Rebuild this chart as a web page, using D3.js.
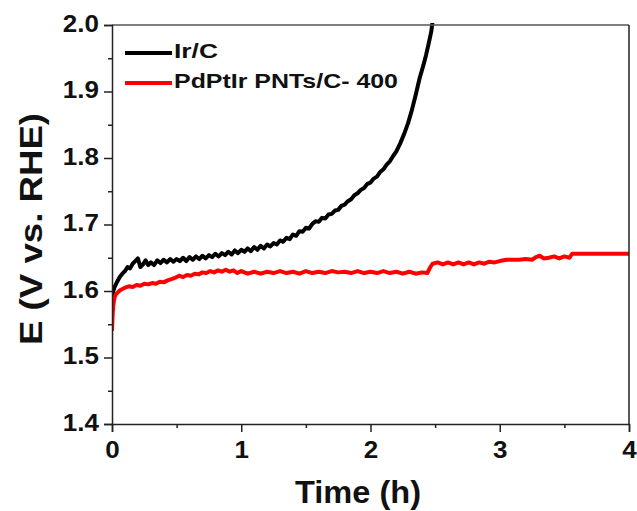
<!DOCTYPE html>
<html><head><meta charset="utf-8">
<script src="https://cdn.jsdelivr.net/npm/d3@7"></script>
<style>body{margin:0;background:#fff}svg{display:block}text{font-family:"Liberation Sans",Arial,sans-serif;font-weight:bold}</style>
</head><body>
<svg id="c" width="637" height="511"></svg>
<script>
const seriesNames = ["Ir/C", "PdPtIr PNTs/C- 400"];
const seriesColors = ["#000000", "#ff0000"];
const xTicks = [0, 1, 2, 3, 4];
const yTicks = [1.4, 1.5, 1.6, 1.7, 1.8, 1.9, 2.0];
const irC = [[0,1.588],[0.01,1.600],[0.02,1.606],[0.04,1.614],[0.06,1.621],[0.08,1.626],[0.10,1.630],[0.12,1.636],[0.14,1.634],[0.16,1.641],[0.18,1.645],[0.20,1.649],[0.22,1.636],[0.24,1.640],[0.26,1.646],[0.28,1.639],[0.30,1.643],[0.325,1.639],[0.35,1.646],[0.375,1.642],[0.40,1.647],[0.425,1.643],[0.45,1.648],[0.475,1.644],[0.50,1.648],[0.525,1.645],[0.55,1.650],[0.575,1.645],[0.60,1.651],[0.625,1.647],[0.65,1.652],[0.675,1.648],[0.70,1.653],[0.725,1.649],[0.75,1.654],[0.775,1.651],[0.80,1.656],[0.825,1.652],[0.85,1.657],[0.875,1.654],[0.90,1.659],[0.925,1.655],[0.95,1.661],[0.975,1.657],[1.00,1.662],[1.025,1.659],[1.05,1.664],[1.075,1.660],[1.10,1.666],[1.125,1.662],[1.15,1.668],[1.175,1.664],[1.20,1.670],[1.225,1.667],[1.25,1.672],[1.275,1.670],[1.30,1.676],[1.325,1.674],[1.35,1.680],[1.375,1.678],[1.40,1.685],[1.425,1.683],[1.45,1.690],[1.475,1.689],[1.50,1.695],[1.525,1.694],[1.55,1.701],[1.575,1.705],[1.60,1.704],[1.625,1.710],[1.65,1.709],[1.675,1.715],[1.70,1.716],[1.725,1.721],[1.75,1.722],[1.775,1.728],[1.80,1.730],[1.825,1.735],[1.85,1.738],[1.875,1.744],[1.90,1.747],[1.925,1.752],[1.95,1.755],[1.975,1.761],[2.00,1.763],[2.025,1.769],[2.05,1.772],[2.075,1.779],[2.10,1.783],[2.125,1.790],[2.15,1.795],[2.175,1.803],[2.20,1.810],[2.23,1.822],[2.26,1.836],[2.29,1.852],[2.32,1.872],[2.35,1.895],[2.38,1.920],[2.41,1.940],[2.43,1.955],[2.45,1.972],[2.47,1.990],[2.48,2.005]];
const pdptir = [[0,1.540],[0.003,1.555],[0.006,1.568],[0.01,1.578],[0.015,1.585],[0.02,1.590],[0.03,1.595],[0.05,1.599],[0.07,1.602],[0.10,1.605],[0.13,1.607],[0.16,1.606],[0.19,1.609],[0.22,1.608],[0.25,1.611],[0.28,1.610],[0.31,1.612],[0.34,1.611],[0.37,1.614],[0.40,1.613],[0.43,1.616],[0.46,1.618],[0.49,1.620],[0.52,1.623],[0.55,1.621],[0.58,1.624],[0.61,1.623],[0.64,1.626],[0.67,1.625],[0.70,1.628],[0.73,1.627],[0.76,1.630],[0.79,1.628],[0.82,1.631],[0.85,1.629],[0.88,1.632],[0.91,1.629],[0.94,1.631],[0.97,1.627],[1.00,1.630],[1.05,1.626],[1.10,1.629],[1.15,1.626],[1.20,1.629],[1.25,1.627],[1.30,1.630],[1.35,1.627],[1.40,1.629],[1.45,1.626],[1.50,1.630],[1.55,1.627],[1.60,1.629],[1.65,1.627],[1.70,1.630],[1.75,1.628],[1.80,1.629],[1.85,1.627],[1.90,1.630],[1.95,1.627],[2.00,1.629],[2.05,1.627],[2.10,1.630],[2.15,1.627],[2.20,1.629],[2.25,1.626],[2.30,1.629],[2.35,1.626],[2.40,1.628],[2.44,1.627],[2.46,1.635],[2.48,1.641],[2.52,1.643],[2.56,1.640],[2.60,1.643],[2.64,1.640],[2.68,1.643],[2.72,1.640],[2.76,1.643],[2.80,1.640],[2.84,1.643],[2.88,1.641],[2.92,1.644],[2.96,1.643],[3.00,1.645],[3.05,1.647],[3.10,1.647],[3.15,1.647],[3.20,1.648],[3.25,1.647],[3.28,1.651],[3.31,1.653],[3.34,1.649],[3.38,1.650],[3.42,1.652],[3.46,1.649],[3.50,1.652],[3.54,1.650],[3.56,1.656],[3.70,1.656],[3.85,1.656],[4.00,1.656]];
const seriesData = [irC, pdptir];

const svg = d3.select("#c");
const L = 112, R = 629, T = 25, B = 424;
const x = d3.scaleLinear().domain([0, 4]).range([L, R]);
const y = d3.scaleLinear().domain([1.4, 2.0]).range([B, T]);

function stretch(sel, f) {
  sel.each(function(){
    const w = this.getComputedTextLength();
    d3.select(this).attr("textLength", w * f).attr("lengthAdjust", "spacingAndGlyphs");
  });
}

svg.append("clipPath").attr("id","clip").append("rect").attr("x",L).attr("y",T-2).attr("width",R-L).attr("height",B-T+2);

const line = d3.line().x(d=>x(d[0])).y(d=>y(d[1]));
seriesData.forEach((s,i)=>{
  svg.append("path").datum(s).attr("d",line).attr("fill","none")
    .attr("stroke",seriesColors[i]).attr("stroke-width",4).attr("stroke-linejoin","round")
    .attr("clip-path","url(#clip)");
});

// frame
svg.append("line").attr("x1",L).attr("x2",R).attr("y1",T).attr("y2",T).attr("stroke","#555").attr("stroke-width",1.5);
svg.append("line").attr("x1",R).attr("x2",R).attr("y1",T).attr("y2",B).attr("stroke","#222").attr("stroke-width",1.5);

// axes
const xAxis = d3.axisBottom(x).tickValues(xTicks).tickFormat(d3.format("d")).tickSize(8).tickPadding(10);
const gx = svg.append("g").attr("transform",`translate(0,${B})`).call(xAxis);
const xMinor = d3.axisBottom(x).tickValues([0.5,1.5,2.5,3.5]).tickSize(4).tickFormat("");
svg.append("g").attr("transform",`translate(0,${B})`).call(xMinor).select(".domain").remove();
const yAxis = d3.axisLeft(y).tickValues(yTicks).tickFormat(d3.format(".1f")).tickSize(8).tickPadding(5);
const gy = svg.append("g").attr("transform",`translate(${L},0)`).call(yAxis);
const yMinor = d3.axisLeft(y).tickValues([1.45,1.55,1.65,1.75,1.85,1.95]).tickSize(4).tickFormat("");
svg.append("g").attr("transform",`translate(${L},0)`).call(yMinor).select(".domain").remove();

svg.selectAll(".domain").attr("stroke","#222").attr("stroke-width",1.5);
svg.selectAll(".tick line").attr("stroke","#222").attr("stroke-width",1.5);
[gx, gy].forEach(g => {
  const t = g.selectAll("text").attr("font-size",23).attr("fill","#111")
    .style("font-family","'Liberation Sans',Arial").style("font-weight","bold");
  stretch(t, 1.13);
});
gy.selectAll("text").attr("dy","0.28em");

// titles
svg.append("text").attr("x",358).attr("y",503).attr("text-anchor","middle").attr("font-size",32).attr("fill","#111")
  .attr("textLength",126).attr("lengthAdjust","spacingAndGlyphs").text("Time (h)");
svg.append("text").attr("transform","translate(42,229) rotate(-90)").attr("text-anchor","middle").attr("font-size",32).attr("fill","#111")
  .attr("textLength",232).attr("lengthAdjust","spacingAndGlyphs").text("E (V vs. RHE)");

// legend
const legendLens = [44, 224];
seriesNames.forEach((n,i)=>{
  const ly = 53 + i*30;
  svg.append("line").attr("x1",125).attr("x2",172).attr("y1",ly).attr("y2",ly).attr("stroke",seriesColors[i]).attr("stroke-width",4);
  svg.append("text").attr("x",174).attr("y",ly+5).attr("font-size",21).attr("fill","#111")
    .attr("textLength",legendLens[i]).attr("lengthAdjust","spacingAndGlyphs").text(n);
});
</script>
</body></html>
